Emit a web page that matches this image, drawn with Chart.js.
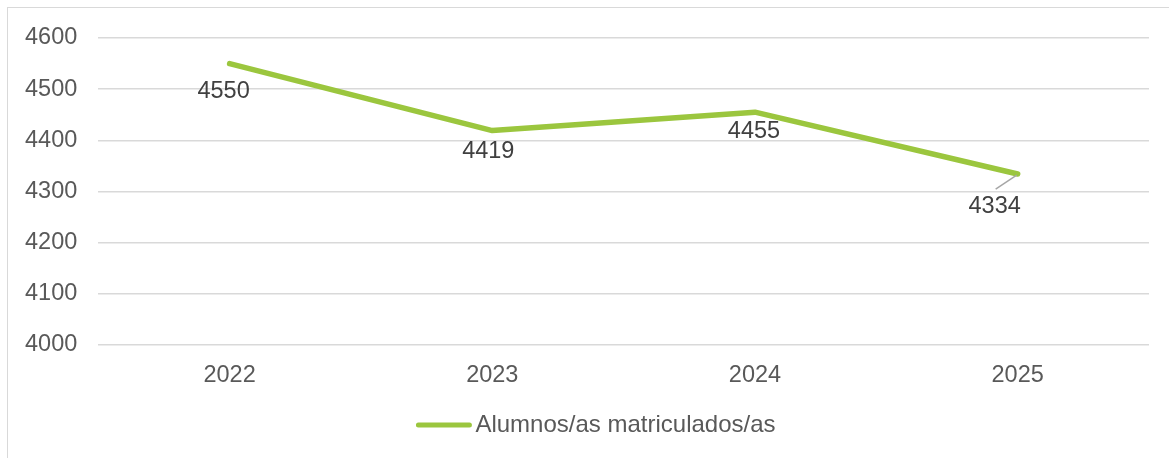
<!DOCTYPE html>
<html>
<head>
<meta charset="utf-8">
<script src="https://cdn.jsdelivr.net/npm/chart.js@4.4.1/dist/chart.umd.min.js"></script>
<style>
  html, body { margin: 0; padding: 0; background: #fff; }
  #frame { position: absolute; left: 7px; top: 7px; width: 1180px; height: 470px; border: 1.5px solid #d9d9d9; box-sizing: border-box; }
  #wrap { position: absolute; left: 0; top: 0; width: 1169px; height: 458px; }
</style>
</head>
<body>
<div id="frame"></div>
<div id="wrap"><canvas id="c" width="1169" height="458"></canvas></div>
<script>
const categories = ['2022', '2023', '2024', '2025'];
const seriesName = 'Alumnos/as matriculados/as';
const enrolled = [4550, 4419, 4455, 4334];
const yTicks = [4000, 4100, 4200, 4300, 4400, 4500, 4600];

const labelOffsets = [
  { dx: -6, dy: 28, leader: false },
  { dx: -4, dy: 21, leader: false },
  { dx: -1, dy: 19, leader: false },
  { dx: -23, dy: 33, leader: true }
];

const FONT = '"Liberation Sans", Arial, sans-serif';
const LINE_COLOR = '#9BC63E';

const dataLabelPlugin = {
  id: 'dataLabels',
  afterDatasetsDraw(chart) {
    const ctx = chart.ctx;
    const meta = chart.getDatasetMeta(0);
    ctx.save();
    ctx.font = '23.5px ' + FONT;
    ctx.fillStyle = '#404040';
    ctx.textAlign = 'center';
    ctx.textBaseline = 'middle';
    meta.data.forEach((pt, i) => {
      const o = labelOffsets[i];
      const lx = pt.x + o.dx, ly = pt.y + o.dy;
      if (o.leader) {
        ctx.strokeStyle = '#a6a6a6';
        ctx.lineWidth = 1.5;
        ctx.beginPath();
        ctx.moveTo(pt.x - 1, pt.y + 1);
        ctx.lineTo(pt.x - 22, pt.y + 15);
        ctx.stroke();
      }
      ctx.fillText(String(chart.data.datasets[0].data[i]), lx, ly);
    });
    ctx.restore();
  },
  afterDraw(chart) {
    const ctx = chart.ctx;
    ctx.save();
    ctx.font = '24px ' + FONT;
    const tw = ctx.measureText(seriesName).width;
    const lineW = 55, gap = 4;
    const total = lineW + gap + tw;
    const cx = 596, cy = 425;
    const x0 = cx - total / 2;
    ctx.strokeStyle = LINE_COLOR;
    ctx.lineWidth = 5;
    ctx.lineCap = 'round';
    ctx.beginPath();
    ctx.moveTo(x0 + 2, cy);
    ctx.lineTo(x0 + lineW - 2, cy);
    ctx.stroke();
    ctx.fillStyle = '#595959';
    ctx.textAlign = 'left';
    ctx.textBaseline = 'middle';
    ctx.fillText(seriesName, x0 + lineW + gap, cy);
    ctx.restore();
  }
};

new Chart(document.getElementById('c'), {
  type: 'line',
  data: {
    labels: categories,
    datasets: [{
      label: seriesName,
      data: enrolled,
      borderColor: LINE_COLOR,
      backgroundColor: LINE_COLOR,
      borderWidth: 5.5,
      borderCapStyle: 'round',
      borderJoinStyle: 'round',
      pointRadius: 0,
      pointHoverRadius: 0,
      tension: 0
    }]
  },
  options: {
    responsive: false,
    animation: false,
    events: [],
    layout: { padding: { left: 4, right: 20, top: 38, bottom: 51 } },
    scales: {
      x: {
        offset: true,
        grid: { display: false, drawTicks: false },
        border: { display: false },
        ticks: { color: '#595959', font: { size: 23.5, family: FONT }, padding: 17 }
      },
      y: {
        min: 4000,
        max: 4600,
        afterBuildTicks(scale) { scale.ticks = yTicks.map(v => ({ value: v })); },
        grid: { color: '#d9d9d9', lineWidth: 1.5, drawTicks: false },
        border: { display: false },
        ticks: { color: '#595959', font: { size: 23.5, family: FONT }, padding: 21, callback: v => String(v) }
      }
    },
    plugins: {
      legend: { display: false },
      tooltip: { enabled: false }
    }
  },
  plugins: [dataLabelPlugin]
});
</script>
</body>
</html>
